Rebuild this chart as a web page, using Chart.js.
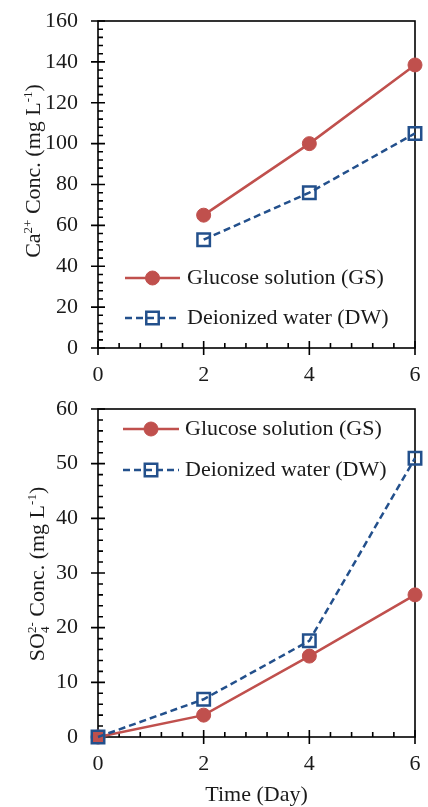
<!DOCTYPE html>
<html>
<head>
<meta charset="utf-8">
<script src="https://cdn.jsdelivr.net/npm/chart.js@4.4.0/dist/chart.umd.min.js"></script>
<style>
  html, body { margin: 0; padding: 0; background: #fff; }
  canvas { display: block; }
</style>
</head>
<body>
<canvas id="caChart" width="428" height="390"></canvas>
<canvas id="soChart" width="428" height="417"></canvas>
<script>
// data
const days = [0, 2, 4, 6]
const caGS = [null, 65, 100, 138.5]
const caDW = [null, 53, 76, 105]
const so4GS = [0, 4, 14.8, 26]
const so4DW = [0, 6.9, 17.6, 51]

const xTicks = [0, 2, 4, 6]
const caTicks = [0, 20, 40, 60, 80, 100, 120, 140, 160]
const so4Ticks = [0, 10, 20, 30, 40, 50, 60]

const seriesNames = ['Glucose solution (GS)', 'Deionized water (DW)']

const FONT = "'Liberation Serif', 'Times New Roman', serif"
const RED = '#C0504D'
const BLUE = '#23508C'
const TEXT = '#1a1a1a'

const toPoints = (vals) =>
  days.map((d, i) => ({ x: d, y: vals[i] })).filter(p => p.y !== null)

// frame + Excel-like ticks (major cross the axis, minor inside)
const axisFrame = {
  id: 'axisFrame',
  beforeDatasetsDraw(chart, args, opts) {
    const { ctx, chartArea: a, scales: { x, y } } = chart
    ctx.save()
    ctx.strokeStyle = '#000'
    ctx.lineWidth = 1.6
    ctx.strokeRect(a.left, a.top, a.right - a.left, a.bottom - a.top)
    ctx.beginPath()
    const isMajor = (v, step) => Math.abs(v / step - Math.round(v / step)) < 1e-6
    for (let v = y.min; v <= y.max + 1e-9; v += opts.yMinor) {
      const py = y.getPixelForValue(v)
      const major = isMajor(v, opts.yMajor)
      ctx.moveTo(a.left - (major ? 7 : 0), py)
      ctx.lineTo(a.left + (major ? 7 : 5), py)
    }
    for (let v = x.min; v <= x.max + 1e-9; v += opts.xMinor) {
      const px = x.getPixelForValue(v)
      const major = isMajor(v, opts.xMajor)
      ctx.moveTo(px, a.bottom + (major ? 7 : 0))
      ctx.lineTo(px, a.bottom - (major ? 7 : 5))
    }
    ctx.stroke()
    ctx.restore()
  }
}

// y title with super/subscripts, optional x title
function drawRich(ctx, parts, size) {
  const big = `${size}px ${FONT}`
  const small = `${Math.round(size * 0.6)}px ${FONT}`
  const widths = parts.map(p => {
    if (!p.sup && !p.sub) { ctx.font = big; return ctx.measureText(p.t).width }
    ctx.font = small
    return Math.max(p.sup ? ctx.measureText(p.sup).width : 0, p.sub ? ctx.measureText(p.sub).width : 0)
  })
  let cx = -widths.reduce((s, w) => s + w, 0) / 2
  parts.forEach((p, i) => {
    if (!p.sup && !p.sub) {
      ctx.font = big
      ctx.fillText(p.t, cx, 0)
    } else {
      ctx.font = small
      if (p.sup) ctx.fillText(p.sup, cx, -size * 0.36)
      if (p.sub) ctx.fillText(p.sub, cx, size * 0.22)
    }
    cx += widths[i]
  })
}

const axisTitles = {
  id: 'axisTitles',
  afterDraw(chart, args, opts) {
    const { ctx, chartArea: a } = chart
    ctx.save()
    ctx.fillStyle = TEXT
    ctx.textBaseline = 'alphabetic'
    ctx.textAlign = 'left'
    ctx.translate(opts.yTitleX, opts.yTitleY)
    ctx.rotate(-Math.PI / 2)
    drawRich(ctx, opts.yTitle, 22)
    ctx.restore()
    if (opts.xTitle) {
      ctx.save()
      ctx.fillStyle = TEXT
      ctx.font = `22px ${FONT}`
      ctx.textAlign = 'center'
      ctx.textBaseline = 'middle'
      ctx.fillText(opts.xTitle, (a.left + a.right) / 2, opts.xTitleY)
      ctx.restore()
    }
  }
}

// legend inside the plot: line, marker, label
const insideLegend = {
  id: 'insideLegend',
  afterDatasetsDraw(chart, args, opts) {
    const { ctx } = chart
    chart.data.datasets.forEach((ds, i) => {
      const ry = opts.rows[i]
      ctx.save()
      ctx.strokeStyle = ds.borderColor
      ctx.lineWidth = ds.borderWidth
      ctx.setLineDash(ds.borderDash || [])
      ctx.beginPath()
      ctx.moveTo(opts.x0, ry)
      ctx.lineTo(opts.x1, ry)
      ctx.stroke()
      ctx.setLineDash([])
      ctx.fillStyle = ds.pointBackgroundColor
      ctx.strokeStyle = ds.pointBorderColor
      ctx.lineWidth = ds.pointBorderWidth
      Chart.helpers.drawPoint(ctx, {
        pointStyle: ds.pointStyle,
        radius: ds.pointRadius,
        borderWidth: ds.pointBorderWidth,
        rotation: 0
      }, (opts.x0 + opts.x1) / 2, ry)
      ctx.fillStyle = TEXT
      ctx.font = `22px ${FONT}`
      ctx.textAlign = 'left'
      ctx.textBaseline = 'middle'
      ctx.fillText(ds.label, opts.textX, ry)
      ctx.restore()
    })
  }
}

function makeDatasets(gs, dw) {
  return [
    {
      label: seriesNames[0],
      data: toPoints(gs),
      borderColor: RED,
      borderWidth: 2.5,
      pointStyle: 'circle',
      pointRadius: 7,
      pointBackgroundColor: RED,
      pointBorderColor: RED,
      pointBorderWidth: 1,
      clip: false,
      order: 1
    },
    {
      label: seriesNames[1],
      data: toPoints(dw),
      borderColor: BLUE,
      borderWidth: 2.5,
      borderDash: [7, 4],
      pointStyle: 'rect',
      pointRadius: 8.8,
      pointBackgroundColor: 'rgba(0,0,0,0)',
      pointBorderColor: BLUE,
      pointBorderWidth: 2.5,
      clip: false,
      order: 0
    }
  ]
}

// the tick padding would otherwise be pushed into the layout as extra margin
const noScalePadding = (s) => {
  s.paddingTop = 0
  s.paddingBottom = 0
  s.paddingLeft = 0
  s.paddingRight = 0
}

function makeConfig(gs, dw, yTicks, padding, xHeight, extra) {
  const tickFont = { family: FONT, size: 22 }
  return {
    type: 'line',
    data: { datasets: makeDatasets(gs, dw) },
    options: {
      responsive: false,
      devicePixelRatio: 1,
      animation: false,
      layout: { padding },
      plugins: {
        legend: { display: false },
        tooltip: { enabled: false },
        axisFrame: {
          xMajor: xTicks[1] - xTicks[0],
          xMinor: (xTicks[1] - xTicks[0]) / 5,
          yMajor: yTicks[1] - yTicks[0],
          yMinor: (yTicks[1] - yTicks[0]) / 5
        },
        axisTitles: extra.titles,
        insideLegend: extra.legend
      },
      scales: {
        x: {
          type: 'linear',
          min: xTicks[0],
          max: xTicks[xTicks.length - 1],
          grid: { display: false, drawTicks: false },
          border: { display: false },
          afterFit: (s) => { s.height = xHeight; noScalePadding(s) },
          ticks: { stepSize: xTicks[1] - xTicks[0], padding: 14, color: TEXT, font: tickFont, maxRotation: 0 }
        },
        y: {
          min: yTicks[0],
          max: yTicks[yTicks.length - 1],
          grid: { display: false, drawTicks: false },
          border: { display: false },
          afterFit: (s) => { s.width = 98; noScalePadding(s) },
          ticks: { stepSize: yTicks[1] - yTicks[0], padding: 20, color: TEXT, font: tickFont }
        }
      }
    },
    plugins: [axisFrame, axisTitles, insideLegend]
  }
}

new Chart(document.getElementById('caChart'), makeConfig(
  caGS, caDW, caTicks,
  { top: 21, right: 13, bottom: 0, left: 0 }, 42,
  {
    titles: {
      yTitleX: 40, yTitleY: 171,
      yTitle: [{ t: 'Ca' }, { sup: '2+' }, { t: ' Conc. (mg L' }, { sup: '-1' }, { t: ')' }]
    },
    legend: { rows: [278, 318], x0: 125, x1: 180, textX: 187 }
  }
))

new Chart(document.getElementById('soChart'), makeConfig(
  so4GS, so4DW, so4Ticks,
  { top: 19, right: 13, bottom: 0, left: 0 }, 70,
  {
    titles: {
      yTitleX: 44, yTitleY: 184,
      yTitle: [{ t: 'SO' }, { sub: '4', sup: '2-' }, { t: ' Conc. (mg L' }, { sup: '-1' }, { t: ')' }],
      xTitle: 'Time (Day)', xTitleY: 405
    },
    legend: { rows: [39, 80], x0: 123, x1: 179, textX: 185 }
  }
))
</script>
</body>
</html>
